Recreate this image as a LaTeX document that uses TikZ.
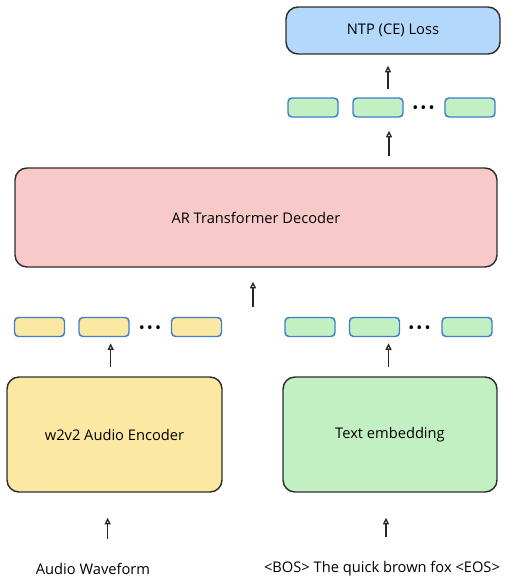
\documentclass[tikz,border=0pt]{standalone}
\usepackage{fontspec}
\setmainfont{Open Sans}
\usepackage{tikz}
\usetikzlibrary{arrows.meta, positioning}

\definecolor{lossblue}{HTML}{B4D8FC}
\definecolor{decpink}{HTML}{F7C9C9}
\definecolor{encyellow}{HTML}{FBE8A2}
\definecolor{embgreen}{HTML}{C2F0C2}
\definecolor{tokborder}{HTML}{3F7DCF}
\definecolor{boxborder}{HTML}{2E2E2E}

\begin{document}
\begin{tikzpicture}[
        x=0.75pt, y=-0.75pt,
        font=\fontsize{11}{13}\selectfont,
        block/.style={
            rectangle,
            rounded corners=9pt,
            draw=boxborder,
            line width=1.1pt,
            align=center
        },
        token/.style={
            rectangle,
            rounded corners=3pt,
            draw=tokborder,
            line width=1.1pt,
            minimum width=37.5pt,
            minimum height=14.25pt,
            inner sep=0pt
        },
        dots/.style={inner sep=0pt, font=\fontsize{12}{12}\selectfont},
        arr/.style={-{Triangle[open, length=5pt, width=4.5pt]}, line width=1pt, black!85}
    ]
        \useasboundingbox (0,0) rectangle (530,586);

        \node[block, fill=lossblue, minimum width=160.5pt, minimum height=35.25pt] (loss) at (393,30.5) {NTP (CE) Loss};

        \node[token, fill=embgreen] (out1) at (313,107.5) {};
        \node[token, fill=embgreen] (out2) at (378,107.5) {};
        \node[token, fill=embgreen] (out3) at (470,107.5) {};
        \node[dots] (outdots) at (423.5,110) {\textbullet\hspace{1.5pt}\textbullet\hspace{1.5pt}\textbullet};

        \node[block, fill=decpink, minimum width=361.5pt, minimum height=74.25pt] (dec) at (256,217.5) {AR Transformer Decoder};

        \node[token, fill=encyellow] (aud1) at (39.5,327) {};
        \node[token, fill=encyellow] (aud2) at (104,327) {};
        \node[token, fill=encyellow] (aud3) at (196.5,327) {};
        \node[dots] (auddots) at (150,330) {\textbullet\hspace{1.5pt}\textbullet\hspace{1.5pt}\textbullet};

        \node[token, fill=embgreen] (txt1) at (310,327) {};
        \node[token, fill=embgreen] (txt2) at (374.5,327) {};
        \node[token, fill=embgreen] (txt3) at (467,327) {};
        \node[dots] (txtdots) at (419.5,330) {\textbullet\hspace{1.5pt}\textbullet\hspace{1.5pt}\textbullet};

        \coordinate (merge) at (253,317);

        \node[block, fill=encyellow, minimum width=161.25pt, minimum height=86.25pt] (enc) at (114.5,434.5) {w2v2 Audio Encoder};
        \node[block, fill=embgreen, minimum width=160.5pt, minimum height=86.25pt] (emb) at (390,434.5) {Text embedding};

        \node (wav) at (93,569) {Audio Waveform};
        \node (sent) at (382,569) {<BOS> The quick brown fox <EOS>};

        \draw[arr, shorten <=6pt, shorten >=8.25pt] ([xshift=7.5pt]out2.north) -- ([xshift=7.5pt]out2.north |- loss.south);
        \draw[arr, shorten <=8.25pt, shorten >=9.75pt] ([xshift=8.25pt]out2.south |- dec.north) -- ([xshift=8.25pt]out2.south);
        \draw[arr, shorten <=7.5pt, shorten >=10.5pt] (merge) -- (merge |- dec.south);
        \draw[arr, shorten <=6.75pt, shorten >=4.5pt] ([xshift=5pt]aud2.south |- enc.north) -- ([xshift=5pt]aud2.south);
        \draw[arr, shorten <=6.75pt, shorten >=4.5pt] ([xshift=10.5pt]txt2.south |- emb.north) -- ([xshift=10.5pt]txt2.south);
        \draw[arr, shorten <=15pt, shorten >=18.75pt] ([xshift=11pt]wav.center |- wav.north) -- ([xshift=11pt]wav.center |- enc.south);
        \draw[arr, shorten <=15pt, shorten >=18.75pt] ([xshift=3pt]sent.north) -- ([xshift=3pt]sent.north |- emb.south);
    \end{tikzpicture}
\end{document}
